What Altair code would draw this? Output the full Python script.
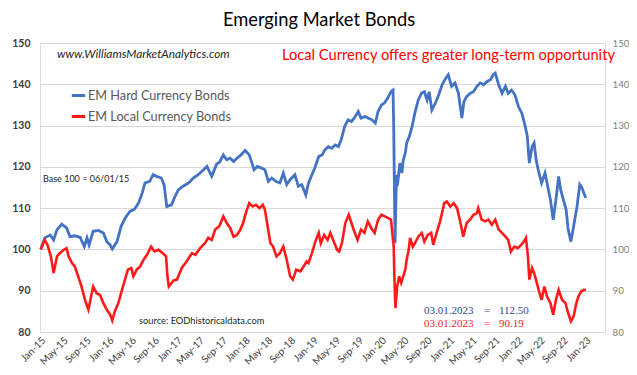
import altair as alt
import pandas as pd

# ---- data (decimal year, index value) ----
hard_t = [2015.01, 2015.07, 2015.15, 2015.20, 2015.25, 2015.32, 2015.39, 2015.44, 2015.51, 2015.59,
          2015.65, 2015.69, 2015.72, 2015.78, 2015.86, 2015.93, 2015.98, 2016.03, 2016.06, 2016.13,
          2016.19, 2016.25, 2016.32, 2016.39, 2016.45, 2016.50, 2016.54, 2016.61, 2016.66, 2016.71,
          2016.78, 2016.82, 2016.86, 2016.93, 2016.98, 2017.03, 2017.10, 2017.18, 2017.25, 2017.32,
          2017.40, 2017.45, 2017.52, 2017.59, 2017.64, 2017.69, 2017.74, 2017.79, 2017.84, 2017.89,
          2017.95, 2018.01, 2018.07, 2018.11, 2018.14, 2018.19, 2018.25, 2018.30, 2018.35, 2018.40,
          2018.46, 2018.52, 2018.57, 2018.62, 2018.67, 2018.74, 2018.79, 2018.84, 2018.90, 2018.94,
          2018.99, 2019.04, 2019.09, 2019.14, 2019.18, 2019.23, 2019.28, 2019.33, 2019.38, 2019.42,
          2019.47, 2019.52, 2019.57, 2019.61, 2019.67, 2019.71, 2019.77, 2019.82, 2019.87, 2019.92,
          2019.96, 2020.01, 2020.05, 2020.10, 2020.15, 2020.18, 2020.19, 2020.20, 2020.21, 2020.23,
          2020.24, 2020.26, 2020.28, 2020.31, 2020.33, 2020.36, 2020.38, 2020.42, 2020.46, 2020.50,
          2020.55, 2020.60, 2020.64, 2020.68, 2020.71, 2020.75, 2020.80, 2020.85, 2020.90, 2020.94,
          2020.99, 2021.04, 2021.09, 2021.14, 2021.19, 2021.22, 2021.26, 2021.31, 2021.36, 2021.41,
          2021.46, 2021.51, 2021.56, 2021.61, 2021.65, 2021.68, 2021.73, 2021.78, 2021.83, 2021.87,
          2021.92, 2021.97, 2022.02, 2022.07, 2022.12, 2022.15, 2022.18, 2022.22, 2022.25, 2022.28,
          2022.31, 2022.36, 2022.41, 2022.45, 2022.49, 2022.53, 2022.57, 2022.61, 2022.64, 2022.68,
          2022.72, 2022.75, 2022.79, 2022.83, 2022.88, 2022.92, 2022.95, 2022.99, 2023.01]
hard_v = [100.0, 102.8, 103.5, 102.3, 104.8, 106.1, 105.2, 103.1, 103.3, 102.9,
          100.7, 102.8, 101.1, 104.4, 104.6, 104.0, 101.9, 101.1, 100.1, 101.9,
          105.6, 107.6, 109.2, 109.8, 111.4, 113.7, 116.1, 116.5, 118.1, 117.7,
          117.3, 115.7, 110.4, 110.8, 112.8, 114.4, 115.3, 116.1, 117.3, 118.1,
          119.3, 120.1, 117.7, 120.6, 121.3, 122.9, 121.7, 122.1, 121.3, 122.1,
          122.9, 124.0, 122.9, 120.9, 119.3, 120.1, 119.7, 119.3, 116.5, 117.3,
          116.5, 116.1, 118.5, 115.7, 116.9, 118.1, 115.3, 115.7, 113.2, 116.1,
          118.1, 120.1, 122.5, 122.9, 124.1, 124.9, 124.5, 125.3, 124.9, 126.6,
          129.8, 131.4, 131.0, 131.8, 133.4, 131.8, 132.2, 131.8, 131.4, 130.6,
          133.4, 135.0, 135.4, 136.6, 138.2, 138.6, 129.8, 115.3, 101.5, 118.1,
          115.3, 117.7, 120.9, 118.5, 121.7, 123.3, 125.8, 127.4, 129.8, 133.0,
          136.2, 137.9, 138.2, 136.2, 138.2, 133.8, 135.4, 137.4, 139.9, 141.1,
          142.3, 139.5, 140.3, 137.8, 131.8, 135.8, 137.0, 137.8, 138.2, 139.5,
          140.3, 139.9, 140.7, 141.1, 142.3, 142.7, 139.9, 137.8, 139.5, 137.8,
          138.6, 137.4, 134.6, 133.0, 129.8, 127.4, 120.9, 124.9, 125.8, 121.7,
          119.3, 116.1, 118.5, 115.3, 112.0, 107.2, 112.0, 117.7, 114.4, 112.0,
          109.6, 104.8, 101.9, 105.6, 110.4, 115.7, 115.0, 113.2, 112.5]

local_t = [2015.01, 2015.07, 2015.11, 2015.16, 2015.20, 2015.25, 2015.29, 2015.34, 2015.39, 2015.42,
           2015.47, 2015.51, 2015.56, 2015.61, 2015.66, 2015.71, 2015.75, 2015.78, 2015.83, 2015.88,
           2015.93, 2015.98, 2016.03, 2016.06, 2016.10, 2016.15, 2016.19, 2016.24, 2016.29, 2016.34,
           2016.37, 2016.42, 2016.47, 2016.52, 2016.57, 2016.63, 2016.68, 2016.74, 2016.80, 2016.85,
           2016.87, 2016.89, 2016.96, 2017.01, 2017.08, 2017.15, 2017.23, 2017.28, 2017.35, 2017.42,
           2017.47, 2017.52, 2017.57, 2017.63, 2017.69, 2017.74, 2017.79, 2017.84, 2017.89, 2017.94,
           2017.98, 2018.02, 2018.07, 2018.12, 2018.17, 2018.22, 2018.27, 2018.30, 2018.34, 2018.38,
           2018.42, 2018.47, 2018.52, 2018.57, 2018.62, 2018.67, 2018.71, 2018.76, 2018.82, 2018.87,
           2018.91, 2018.94, 2018.99, 2019.04, 2019.09, 2019.12, 2019.17, 2019.22, 2019.26, 2019.31,
           2019.36, 2019.39, 2019.43, 2019.48, 2019.53, 2019.57, 2019.61, 2019.66, 2019.71, 2019.76,
           2019.81, 2019.86, 2019.91, 2019.96, 2020.01, 2020.06, 2020.11, 2020.15, 2020.19, 2020.20,
           2020.215, 2020.24, 2020.27, 2020.30, 2020.33, 2020.36, 2020.38, 2020.41, 2020.43, 2020.47,
           2020.50, 2020.55, 2020.60, 2020.64, 2020.69, 2020.74, 2020.77, 2020.82, 2020.87, 2020.91,
           2020.93, 2020.97, 2021.02, 2021.07, 2021.12, 2021.17, 2021.21, 2021.26, 2021.31, 2021.36,
           2021.41, 2021.43, 2021.48, 2021.53, 2021.58, 2021.63, 2021.68, 2021.73, 2021.78, 2021.83,
           2021.87, 2021.91, 2021.96, 2022.01, 2022.06, 2022.10, 2022.13, 2022.16, 2022.18, 2022.22,
           2022.25, 2022.29, 2022.33, 2022.36, 2022.40, 2022.44, 2022.49, 2022.53, 2022.57, 2022.61,
           2022.66, 2022.71, 2022.75, 2022.79, 2022.83, 2022.87, 2022.90, 2022.94, 2022.98, 2023.01]
local_v = [100.0, 102.3, 101.1, 98.3, 94.3, 98.3, 99.1, 99.8, 100.3, 98.3,
           96.7, 95.9, 93.5, 91.0, 87.8, 85.4, 88.6, 91.0, 89.4, 89.0,
           87.0, 85.4, 84.2, 82.8, 85.1, 87.0, 89.4, 92.3, 95.1, 95.5,
           93.5, 95.1, 95.9, 97.5, 98.7, 100.7, 99.5, 99.9, 99.1, 98.3,
           93.5, 91.0, 92.5, 92.7, 95.5, 97.1, 99.1, 98.7, 100.3, 101.5,
           102.8, 102.3, 104.8, 105.6, 108.0, 106.4, 105.2, 103.1, 103.5, 104.8,
           106.4, 108.8, 111.2, 110.4, 110.8, 110.0, 110.8, 109.6, 105.6, 101.5,
           100.7, 98.3, 99.1, 100.7, 97.5, 93.5, 92.7, 95.1, 94.7, 95.9,
           97.1, 96.7, 99.1, 101.9, 104.0, 101.5, 103.5, 102.3, 104.0, 101.9,
           99.9, 99.5, 101.5, 106.4, 108.4, 106.4, 104.4, 102.3, 104.8, 104.0,
           106.8, 105.2, 104.0, 107.2, 108.4, 108.0, 107.6, 107.2, 100.7, 93.5,
           85.8, 91.0, 93.5, 91.9, 93.5, 95.1, 97.5, 99.9, 102.8, 100.7,
           101.5, 103.1, 104.0, 101.9, 103.5, 104.0, 101.1, 104.0, 106.8, 109.6,
           111.2, 111.6, 110.4, 111.2, 110.0, 106.4, 103.1, 106.4, 107.2, 108.4,
           108.8, 110.0, 107.2, 106.8, 107.2, 106.0, 107.2, 104.8, 104.0, 103.1,
           102.3, 99.5, 100.7, 100.3, 101.1, 101.9, 102.8, 98.3, 92.7, 95.5,
           94.3, 91.9, 89.4, 87.8, 91.0, 88.6, 87.0, 84.2, 87.8, 90.2,
           87.8, 87.0, 84.6, 82.6, 83.8, 87.0, 88.6, 89.8, 90.2, 90.19]

series_names = ["EM Hard Currency Bonds", "EM Local Currency Bonds"]
tick_years = list(range(2015, 2024))
y_ticks = [80, 90, 100, 110, 120, 130, 140, 150]

BLUE = "#4472C4"
RED = "#FF1A1A"
FONT = "Lato"


def to_dates(ts):
    base = pd.Timestamp("2015-01-01")
    return [base + pd.Timedelta(days=(t - 2015.0) * 365.25) for t in ts]


df_hard = pd.DataFrame({"date": to_dates(hard_t), "value": hard_v, "series": series_names[0]})
df_local = pd.DataFrame({"date": to_dates(local_t), "value": local_v, "series": series_names[1]})

tick_values = []
for yr in tick_years:
    for mo in (1, 5, 9):
        if yr == 2023 and mo > 1:
            continue
        tick_values.append(alt.DateTime(year=yr, month=mo, date=1))

xscale = alt.Scale(domain=[alt.DateTime(year=2015, month=1, date=1),
                           alt.DateTime(year=2023, month=4, date=17)])
xaxis = alt.Axis(values=tick_values, format="%b-%y", labelAngle=-45, grid=False,
                 ticks=False, domain=False, title=None, labelFont=FONT, labelFontSize=10,
                 labelColor="#404040", labelPadding=3, labelOverlap=False, labelBound=False,
                 labelFlush=False)
color = alt.Color("series:N",
                  scale=alt.Scale(domain=series_names, range=[BLUE, RED]),
                  legend=alt.Legend(orient="none", legendX=30, legendY=44, title=None,
                                    symbolType="stroke", symbolSize=180, symbolStrokeWidth=3,
                                    labelFont=FONT, labelFontSize=12.7, labelColor="#595959",
                                    rowPadding=5, labelOffset=1, symbolOffset=0))

blue_line = alt.Chart(df_hard).mark_line(strokeWidth=2.8).encode(
    x=alt.X("date:T", scale=xscale, axis=xaxis),
    y=alt.Y("value:Q", scale=alt.Scale(domain=[80, 150], nice=False, zero=False),
            axis=alt.Axis(values=y_ticks, orient="left", title=None, grid=True,
                          gridColor="#D9D9D9", ticks=False, domain=False,
                          labelFont=FONT, labelFontSize=10.5, labelFontWeight="bold",
                          labelColor="#404040", labelPadding=10)),
    color=color,
)

red_line = alt.Chart(df_local).mark_line(strokeWidth=2.6).encode(
    x=alt.X("date:T", scale=xscale, axis=xaxis),
    y=alt.Y("value:Q", scale=alt.Scale(domain=[80, 150], nice=False, zero=False),
            axis=alt.Axis(values=y_ticks, orient="right", title=None, grid=False,
                          ticks=False, domain=False, labelFont=FONT, labelFontSize=9.8,
                          labelColor="#7F7F7F", labelPadding=7)),
    color=color,
)

one = alt.Data(values=[{"k": 1}])


def label(text, x, y, size, col, align="left", style="normal", font=FONT):
    return alt.Chart(one).mark_text(text=text, fontSize=size, color=col, align=align,
                                    baseline="middle", fontStyle=style, font=font).encode(
        x=alt.value(x), y=alt.value(y))


SERIF = "Liberation Serif"
NAVY = "#2F4B82"
texts = [
    label("Emerging Market Bonds", 279, -22.5, 18.3, "#000000", align="center"),
    label("www.WilliamsMarketAnalytics.com", 17, 11, 11.8, "#262626", style="italic"),
    label("Local Currency offers greater long-term opportunity", 575, 12.5, 14.7, "#FF0000", align="right"),
    label("Base 100 = 06/01/15", 3, 136, 9, "#262626"),
    label("source: EODhistoricaldata.com", 99, 278, 9.3, "#262626"),
    label("03.01.2023", 384, 268, 11, NAVY, font=SERIF),
    label("=", 447, 268, 11, NAVY, align="center", font=SERIF),
    label("112.50", 459, 268, 11, NAVY, font=SERIF),
    label("03.01.2023", 384, 281, 11, "#FF2020", font=SERIF),
    label("=", 447, 281, 11, "#FF2020", align="center", font=SERIF),
    label("90.19", 459, 281, 11, "#FF2020", font=SERIF),
]

chart = alt.layer(blue_line, red_line, *texts).resolve_scale(y="independent").properties(
    width=565, height=289,
    autosize=alt.AutoSizeParams(type="none"),
    padding={"left": 32, "top": 35, "right": 24, "bottom": 37},
).configure_view(stroke=None).configure(background="white")

chart.save("out.html", embed_options={"renderer": "svg", "actions": False})
